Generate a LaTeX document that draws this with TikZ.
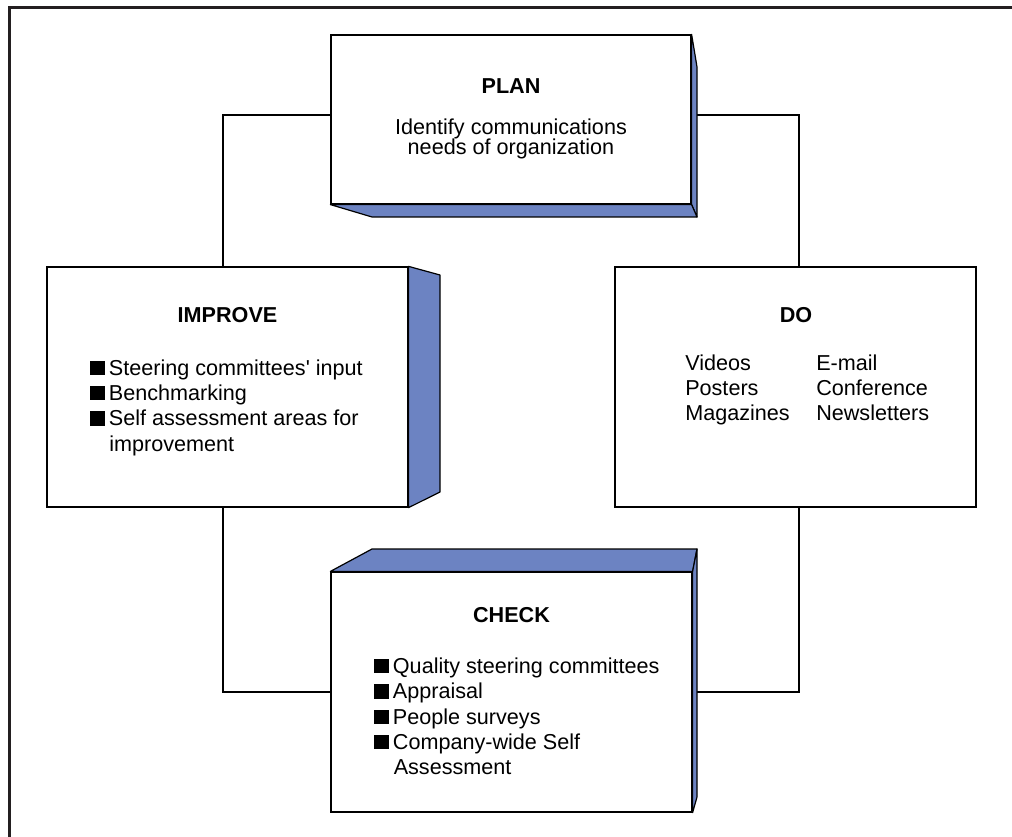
\documentclass[tikz,border=0pt]{standalone}
\usepackage{fontspec}
\setmainfont{Liberation Sans}
\definecolor{boxblue}{RGB}{108,131,194}
\definecolor{framegray}{RGB}{35,31,32}
\pgfdeclarelayer{bg}
\pgfsetlayers{bg,main}
\tikzset{
  face/.style={draw=black, line width=0.9pt, fill=boxblue, line join=round},
  front/.style={draw=black, line width=0.9pt, fill=white, rectangle, inner sep=0pt},
  link/.style={draw=black, line width=0.9pt},
  frame/.style={draw=framegray, line width=2.25pt},
  title/.style={anchor=base, inner sep=0pt, font=\fontsize{16.2}{19}\selectfont\bfseries},
  txt/.style={anchor=base west, inner sep=0pt, font=\fontsize{16.2}{19}\selectfont},
  ctxt/.style={anchor=base, inner sep=0pt, font=\fontsize{16.2}{19}\selectfont},
}
\newcommand{\sqb}{\rule{10.8pt}{10.8pt}\hspace{3.2pt}}
\begin{document}
\begin{tikzpicture}[x=0.75pt, y=-0.75pt]
\useasboundingbox (0,0) rectangle (1012,837);
% frame
\draw[frame] (9,837) -- (9,7.5) -- (1012,7.5);

% front faces
\node[front, minimum width=270pt, minimum height=126.75pt] (plan) at (511,119.5) {};
\node[front, minimum width=270.75pt, minimum height=180pt] (improve) at (227.5,387) {};
\node[front, minimum width=270.75pt, minimum height=180pt] (do) at (795.5,387) {};
\node[front, minimum width=270.75pt, minimum height=180pt] (check) at (511.5,692) {};

\begin{pgfonlayer}{bg}
  % connectors
  \draw[link] ([yshift=3.375pt]plan.west) -| ([xshift=-3.375pt]improve.north);
  \draw[link] ([yshift=3.375pt]plan.east) -| ([xshift=2.625pt]do.north);
  \draw[link] ([xshift=-3.375pt]improve.south) |- (check.west);
  \draw[link] ([xshift=2.625pt]do.south) |- (check.east);
  % extrusions
  \draw[face] (plan.north east) -- (697,67) -- (697,217) -- (plan.south east) -- cycle;
  \draw[face] (plan.south west) -- (372,217) -- (697,217) -- (plan.south east) -- cycle;
  \draw[face] (improve.north east) -- (440,275) -- (440,492) -- (improve.south east) -- cycle;
  \draw[face] (check.north west) -- (372,549) -- (697,549) -- (check.north east) -- cycle;
  \draw[face] (check.north east) -- (697,549) -- (697,797) -- (check.south east) -- cycle;
\end{pgfonlayer}

% PLAN text
\node[title] (plant) at (511,94) {PLAN};
\node[ctxt] (plan1) at (511,135) {Identify communications};
\node[ctxt] (plan2) at (511,155) {needs of organization};

% IMPROVE text
\node[title] (impt) at (227.5,323) {IMPROVE};
\node[txt] (imp1) at (90,375) {\sqb Steering committees\textquotesingle\ input};
\node[txt] (imp2) at (90,400.3) {\sqb Benchmarking};
\node[txt] (imp3) at (90,425.7) {\sqb Self assessment areas for};
\node[txt] (imp4) at (109,451) {improvement};

% DO text
\node[title] (dot) at (796,323) {DO};
\node[txt] (do1) at (685,370) {Videos};
\node[txt] (do2) at (685,395) {Posters};
\node[txt] (do3) at (685,420.5) {Magazines};
\node[txt] (do4) at (816,370) {E-mail};
\node[txt] (do5) at (816,395) {Conference};
\node[txt] (do6) at (816,420.5) {Newsletters};

% CHECK text
\node[title] (chkt) at (511.5,622) {CHECK};
\node[txt] (chk1) at (374,673) {\sqb Quality steering committees};
\node[txt] (chk2) at (374,698.5) {\sqb Appraisal};
\node[txt] (chk3) at (374,724) {\sqb People surveys};
\node[txt] (chk4) at (374,749) {\sqb Company-wide Self};
\node[txt] (chk5) at (393.5,774.5) {Assessment};
\end{tikzpicture}
\end{document}
